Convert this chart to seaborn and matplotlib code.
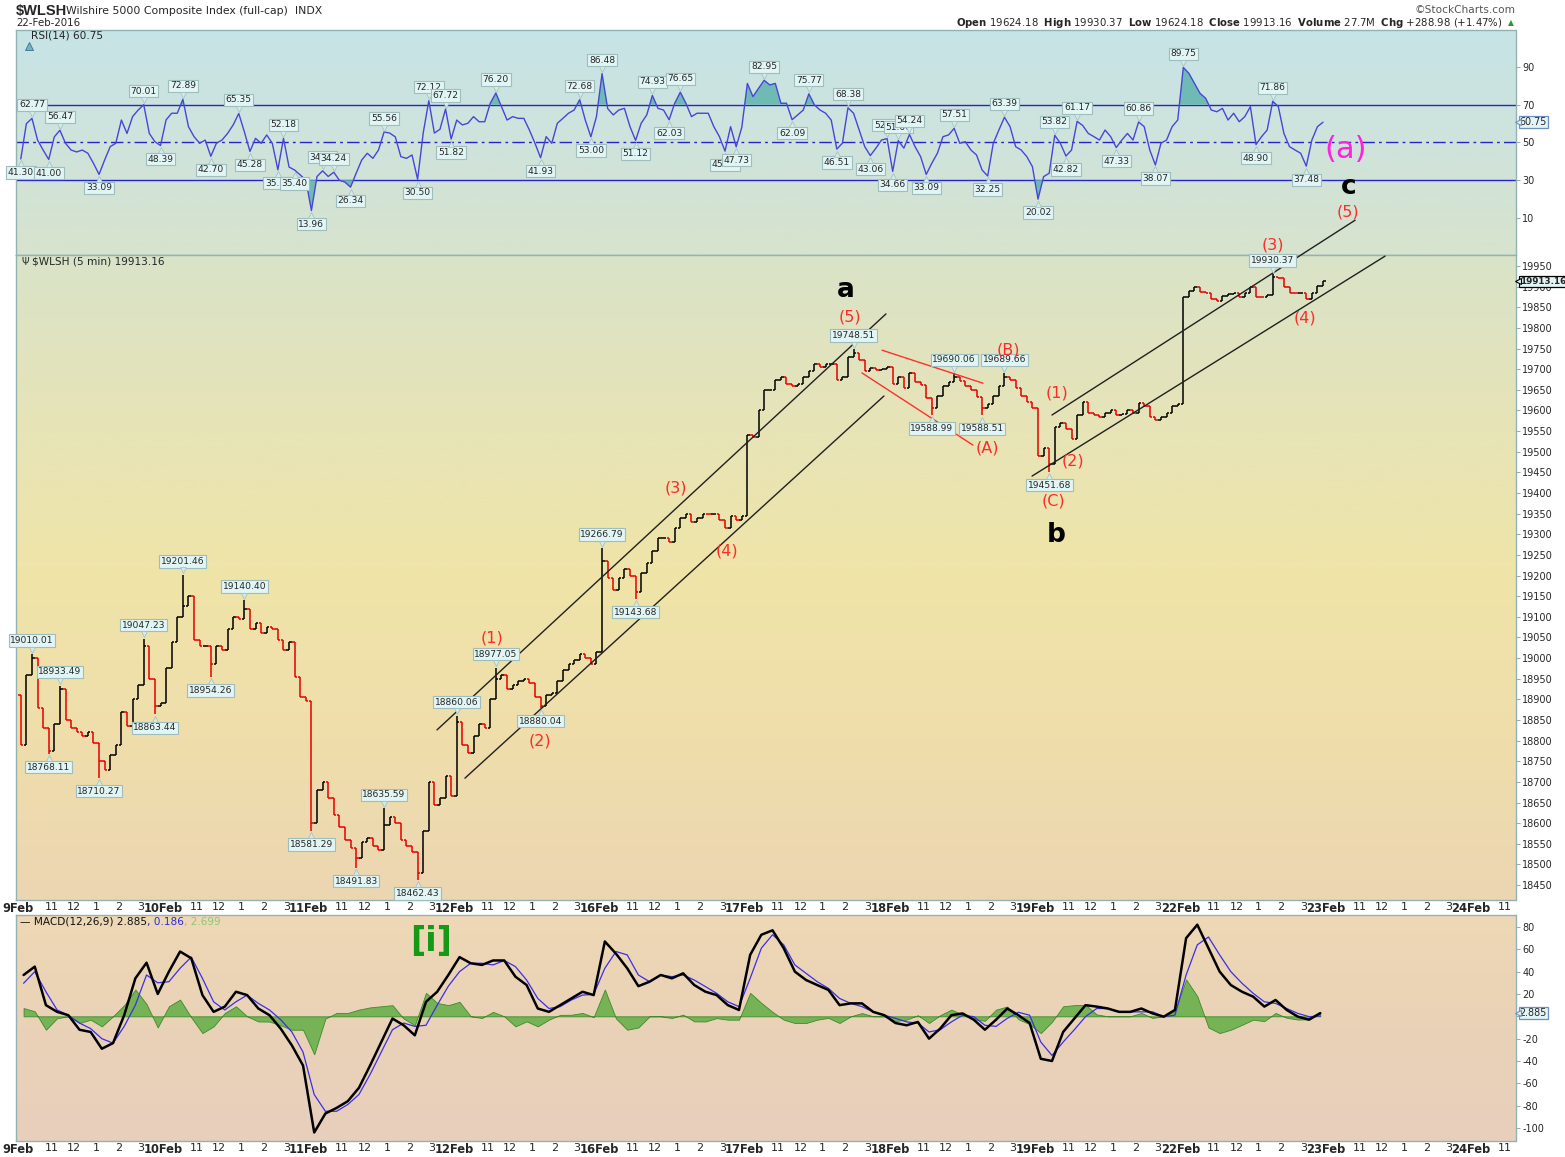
"""Wilshire 5000 (5 min) chart with RSI and MACD panels, StockCharts style."""

import numpy as np
import matplotlib
matplotlib.use("Agg")
import matplotlib.pyplot as plt
import matplotlib.transforms as mtransforms
from matplotlib.colors import LinearSegmentedColormap
import seaborn as sns

W, H = 1565, 1157

# axis calendar: one session = 78 five-minute bars, hour ticks inside it
day_labels = ["9Feb", "10Feb", "11Feb", "12Feb", "16Feb", "17Feb",
              "18Feb", "19Feb", "22Feb", "23Feb", "24Feb"]
hour_labels = ["11", "12", "1", "2", "3"]
hour_offsets = [18, 30, 42, 54, 66]
BARS_PER_DAY = 78
SAMPLE_STEP = 3
MACD_STEP = 6

# ---- price closes (15 min samples, 26 per session) ----
first_open = 18910.0
close_feb09 = [18790, 18960, 19000, 18880, 18830, 18775, 18840, 18925, 18850, 18830,
               18820, 18810, 18820, 18795, 18750, 18730, 18765, 18790, 18870, 18835,
               18900, 18935, 19030, 18950, 18885, 18890]
close_feb10 = [18975, 19040, 19100, 19125, 19150, 19045, 19030, 19030, 18985, 19030,
               19020, 19070, 19100, 19095, 19120, 19070, 19085, 19060, 19075, 19070,
               19045, 19020, 19040, 18955, 18905, 18895]
close_feb11 = [18600, 18680, 18700, 18660, 18620, 18590, 18560, 18540, 18515, 18555,
               18565, 18545, 18535, 18595, 18615, 18600, 18560, 18545, 18530, 18480,
               18580, 18700, 18645, 18660, 18715, 18665]
close_feb12 = [18845, 18790, 18770, 18810, 18840, 18830, 18900, 18950, 18960, 18925,
               18935, 18945, 18950, 18940, 18905, 18885, 18910, 18915, 18945, 18970,
               18985, 18995, 19010, 19000, 18985, 19015]
close_feb16 = [19235, 19195, 19165, 19195, 19215, 19200, 19160, 19205, 19230, 19260,
               19290, 19292, 19282, 19315, 19340, 19350, 19330, 19340, 19350, 19348,
               19350, 19335, 19315, 19345, 19335, 19345]
close_feb17 = [19540, 19535, 19600, 19650, 19650, 19675, 19680, 19665, 19660, 19665,
               19680, 19695, 19712, 19705, 19712, 19712, 19675, 19680, 19730, 19740,
               19722, 19695, 19703, 19698, 19700, 19705]
close_feb18 = [19665, 19680, 19655, 19690, 19670, 19662, 19630, 19605, 19635, 19660,
               19670, 19680, 19672, 19660, 19650, 19632, 19605, 19615, 19635, 19660,
               19680, 19674, 19655, 19635, 19620, 19605]
close_feb19 = [19490, 19510, 19470, 19560, 19570, 19555, 19530, 19590, 19620, 19595,
               19588, 19585, 19595, 19600, 19590, 19592, 19600, 19595, 19618, 19610,
               19585, 19578, 19585, 19595, 19612, 19615]
close_feb22 = [19875, 19890, 19900, 19888, 19885, 19870, 19865, 19878, 19882, 19885,
               19876, 19885, 19898, 19875, 19874, 19880, 19924, 19922, 19898, 19885,
               19884, 19885, 19870, 19885, 19902, 19913.16]

# labelled highs / lows (sample index, value)
price_peak_slots = [2, 7, 22, 29, 40, 65, 78, 85, 104, 149, 167, 176, 224]
price_peak_values = [19010.01, 18933.49, 19047.23, 19201.46, 19140.40, 18635.59, 18860.06,
                     18977.05, 19266.79, 19748.51, 19690.06, 19689.66, 19930.37]
price_trough_slots = [5, 14, 24, 34, 52, 60, 71, 93, 110, 163, 172, 184]
price_trough_values = [18768.11, 18710.27, 18863.44, 18954.26, 18581.29, 18491.83,
                       18462.43, 18880.04, 19143.68, 19588.99, 19588.51, 19451.68]

# ---- RSI(14) (15 min samples) ----
rsi_feb09 = [41.30, 60, 62.77, 51.3, 46, 41.00, 53, 56.47, 49.6, 46, 45, 46, 44.3, 39,
             33.09, 40.7, 47.8, 49.6, 61.9, 54.8, 63.7, 67.2, 70.01, 54.8, 50.4, 48.39]
rsi_feb10 = [62, 65.5, 65.5, 72.89, 58.4, 53.1, 49.6, 51.3, 42.70, 49.6, 51.3, 54.8,
             59.3, 65.35, 55.7, 45.28, 52.2, 49.6, 54, 49.6, 35.55, 52.18, 37, 35.40,
             32.8, 30.1]
rsi_feb11 = [13.96, 32, 34.99, 32, 34.24, 30, 29, 26.34, 33.7, 40.7, 44.3, 41.6, 46,
             55.56, 55, 53, 42.5, 41.6, 43.4, 30.50, 55, 72.12, 55, 57, 67.72, 51.82]
rsi_feb12 = [61.9, 59.3, 60.2, 63.7, 61, 61, 70.8, 76.20, 69, 61.9, 63.7, 62.8, 62.8,
             56.6, 49.6, 41.93, 53.1, 49.6, 60.2, 62.8, 65.5, 67.2, 72.68, 61.9, 53.00,
             63.7]
rsi_feb16 = [86.48, 68, 64.6, 67.2, 68.1, 58.4, 51.12, 60.2, 64.6, 74.93, 68.1, 67.2,
             62.03, 70.8, 76.65, 70.8, 63.7, 65.5, 65.5, 65.5, 58.4, 53.1, 45.41, 58.4,
             47.73, 58]
rsi_feb17 = [81.3, 74.3, 78.7, 82.95, 80.5, 81.3, 70.8, 70.8, 62.09, 64.6, 67.2, 75.77,
             69.9, 67.2, 65.5, 61.9, 46.51, 49.6, 68.38, 65.5, 56.6, 47.8, 43.06, 47,
             51.3, 52.07]
rsi_feb18 = [34.66, 51.00, 47, 54.24, 47.8, 42.5, 33.09, 39, 44.3, 53.1, 54, 57.51, 49.6,
             50.4, 46, 43.4, 35.4, 32.25, 49.6, 56.6, 63.39, 58.4, 47.8, 46, 42.5, 37.2]
rsi_feb19 = [20.02, 31.9, 33.7, 53.82, 49.6, 42.82, 46, 61.17, 59, 54.8, 53.1, 51.3, 56.6,
             53.1, 47.33, 51.3, 54.8, 51.3, 60.86, 58.4, 46, 38.07, 49.6, 51.3, 58.4, 61.9]
rsi_feb22 = [89.75, 86.6, 81.3, 76, 73.4, 67.2, 66.3, 68.1, 61.9, 65.5, 61, 63.7, 69,
             48.90, 53.1, 56.6, 71.86, 69, 54.8, 47.8, 46, 44.3, 37.48, 51.3, 58.4, 60.75]

rsi_peak_slots = [2, 7, 22, 29, 39, 47, 54, 56, 65, 73, 76, 85, 100, 104, 113, 118, 133,
                  141, 148, 155, 157, 159, 167, 176, 185, 189, 200, 208, 224]
rsi_trough_slots = [0, 5, 14, 25, 34, 41, 46, 49, 52, 59, 71, 77, 93, 102, 110, 116, 126,
                    128, 138, 146, 152, 156, 162, 173, 182, 187, 196, 203, 221, 230]

# ---- MACD(12,26,9) (30 min samples, 13 per session) ----
macd_feb09 = [37, 44.5, 10, 4, 1, -12, -14, -29, -24, 1, 34, 48, 20]
macd_feb10 = [40, 58, 52, 19, 4, 8.7, 22, 19, 7, 1, -11, -26, -44]
macd_feb11 = [-104, -87, -82, -76, -64, -44, -23, -2, -8, -17, 13, 22, 37]
macd_feb12 = [53, 47.5, 46, 50, 50, 35.5, 28, 7, 4, 10, 16, 22, 19]
macd_feb16 = [67, 56, 43, 27, 31, 37, 34, 38.5, 28, 22, 19, 10, 5.7]
macd_feb17 = [55, 73, 77, 61, 40, 32.5, 28, 23.6, 10, 11.6, 11.6, 4, 1]
macd_feb18 = [-6, -8, -5, -20, -11, 1, 2.6, -3, -12, -3, 7, 1, -6]
macd_feb19 = [-38, -40, -14, -2, 10, 8.7, 7, 4, 4, 7, 2.6, -0.3, 5.7]
macd_feb22 = [70, 82, 61, 40, 28, 22, 17.6, 8.7, 14.6, 5.7, -0.3, -3, 2.885]

signal_feb09 = [29.6, 40, 22, 5.7, 1, -6, -11, -20, -24, -9, 10, 37, 30]
signal_feb10 = [31, 43, 53, 34, 13, 5.7, 13, 19, 11.6, 5.7, -3, -14, -32]
signal_feb11 = [-70, -85, -85, -79, -70, -52, -32, -12, -6, -9, -8, 10, 27]
signal_feb12 = [40, 47.5, 47.5, 46, 50, 44.5, 32.5, 16, 7, 8.7, 14.6, 19, 19.7]
signal_feb16 = [43, 58, 55, 37, 31, 37, 35.5, 37, 32.5, 26.6, 20.6, 13, 8.7]
signal_feb17 = [34, 61, 73, 64, 46, 38.5, 31, 25, 16, 11.6, 8.7, 4, 1]
signal_feb18 = [-1.8, -5, -6, -14, -12, -5, 1, -0.3, -8, -9, -1.8, 3.6, 1]
signal_feb19 = [-23, -35, -23, -12, -0.3, 7, 7, 4, 4, 4, 4, -0.3, 1]
signal_feb22 = [37, 64, 71, 55, 40, 29.6, 20.6, 13, 11.6, 7, 2.6, -0.3, 0.186]

# Elliott wave trendlines, (bar, price) end points
channel_a_upper = [(224.9, 18826), (465.9, 19834)]
channel_a_lower = [(239.9, 18709), (464.8, 19635)]
triangle_upper = [(463.8, 19746), (518.0, 19666)]
triangle_lower = [(453.0, 19691), (512.6, 19516)]
channel_c_upper = [(555.0, 19589), (717.7, 20061)]
channel_c_lower = [(544.3, 19441), (733.8, 19974)]

# ---------------------------------------------------------------------------
closes = np.array(close_feb09 + close_feb10 + close_feb11 + close_feb12 + close_feb16
                  + close_feb17 + close_feb18 + close_feb19 + close_feb22, dtype=float)
rsi = np.array(rsi_feb09 + rsi_feb10 + rsi_feb11 + rsi_feb12 + rsi_feb16 + rsi_feb17
               + rsi_feb18 + rsi_feb19 + rsi_feb22, dtype=float)
macd = np.array(macd_feb09 + macd_feb10 + macd_feb11 + macd_feb12 + macd_feb16
                + macd_feb17 + macd_feb18 + macd_feb19 + macd_feb22, dtype=float)
signal = np.array(signal_feb09 + signal_feb10 + signal_feb11 + signal_feb12 + signal_feb16
                  + signal_feb17 + signal_feb18 + signal_feb19 + signal_feb22, dtype=float)
hist = macd - signal

xs = SAMPLE_STEP * np.arange(len(closes)) + SAMPLE_STEP / 2
xm = MACD_STEP * np.arange(len(macd)) + MACD_STEP / 2
XLIM = (-1.07, 803.8)

sns.set_theme(style="white")
plt.rcParams["font.family"] = ["DejaVu Sans"]

fig = plt.figure(figsize=(W / 100, H / 100), dpi=100)
fig.patch.set_facecolor("white")


def panel(top, bottom, left=16, right=1515.5):
    return fig.add_axes([left / W, 1 - bottom / H, (right - left) / W, (bottom - top) / H])


def gradient(ax, stops):
    cmap = LinearSegmentedColormap.from_list("bg", stops)
    grad = np.linspace(0, 1, 256).reshape(-1, 1)
    ax.imshow(grad, cmap=cmap, aspect="auto", extent=(0, 1, 0, 1),
              transform=ax.transAxes, origin="upper", zorder=0)


def fig_text(x, y, s, **kw):
    return fig.text(x / W, 1 - y / H, s, **kw)


def value_tag(ax, x, y, text, above, fs=6.6):
    off = 6.5 if above else -6.5
    ax.annotate(text, (x, y), xytext=(0, off), textcoords="offset points",
                ha="center", va="bottom" if above else "top", fontsize=fs,
                bbox=dict(boxstyle="square,pad=0.18", fc="#e2f5f5", ec="#9fbdbd", lw=0.8),
                zorder=7, annotation_clip=False)
    tr = mtransforms.offset_copy(ax.transData, fig=fig, y=3.2 if above else -3.2,
                                 units="points")
    ax.plot([x], [y], marker="v" if above else "^", ms=5, color="#d2eaea",
            mec="#9fbdbd", mew=0.5, transform=tr, zorder=7, clip_on=False)


def right_tag(ax, y, text, bold=False, ec="#6f8fbf", fs=6.9):
    ax.annotate(text, (1.0, y), xycoords=ax.get_yaxis_transform(), xytext=(3.0, 0),
                textcoords="offset points", ha="left", va="center", fontsize=fs,
                fontweight="bold" if bold else "normal",
                bbox=dict(boxstyle="square,pad=0.1", fc="#e2f5f5", ec=ec, lw=0.9),
                zorder=8, annotation_clip=False)
    ax.plot([1.0], [y], marker="<", ms=4.5, color="#e2f5f5", mec=ec, mew=0.8,
            transform=mtransforms.offset_copy(ax.get_yaxis_transform(), fig=fig, x=1.8,
                                              units="points"),
            zorder=9, clip_on=False)


def style_axis(ax, yticks, ylim):
    ax.set_ylim(*ylim)
    ax.yaxis.tick_right()
    ax.set_yticks(yticks)
    ax.set_yticklabels([f"{t:g}" for t in yticks])
    ax.tick_params(axis="y", which="both", right=True, left=False, length=3, width=0.6,
                   color="#7f9f9f", labelsize=7, pad=2)
    ax.tick_params(axis="x", bottom=False, top=False, length=0)
    for sp in ax.spines.values():
        sp.set_color("#93b3b3")
        sp.set_linewidth(1.0)
    ax.set_xlabel("")
    ax.set_ylabel("")
    ax.set_xlim(*XLIM)


def date_ticks(ax):
    pos, lab = [], []
    for d, name in enumerate(day_labels):
        for off, h in zip([0] + hour_offsets, [name] + hour_labels):
            p = d * BARS_PER_DAY + off
            if p <= XLIM[1]:
                pos.append(p)
                lab.append(h)
    ax.set_xticks(pos)
    ax.set_xticklabels(lab)
    ax.tick_params(axis="x", labelbottom=True, labelsize=8, pad=1.5)
    for t in ax.get_xticklabels():
        if t.get_text() in day_labels:
            t.set_fontweight("bold")
            t.set_fontsize(8.3)
    ax.set_xlim(*XLIM)


ax_rsi = panel(30, 255)
ax_px = panel(255, 900)
ax_macd = panel(915, 1141)

gradient(ax_rsi, ["#c6e4e6", "#cfe3dc", "#d7e3cd"])
gradient(ax_px, ["#d9e3c8", "#e6e4b8", "#f0e4a8", "#efdeab", "#ecd6b2"])
gradient(ax_macd, ["#eed8b4", "#ead2b8", "#e8cfbc"])

# ---- RSI panel ----
for lvl in (70, 30):
    ax_rsi.axhline(lvl, color="#2626c6", lw=1.0, zorder=2)
ax_rsi.axhline(50, color="#2626c6", lw=1.0, ls=(0, (9, 3, 2, 3)), zorder=2)
ax_rsi.fill_between(xs, rsi, 70, where=rsi >= 70, interpolate=True, color="#70bab6",
                    zorder=3, lw=0)
ax_rsi.fill_between(xs, rsi, 30, where=rsi <= 30, interpolate=True, color="#70bab6",
                    zorder=3, lw=0)
sns.lineplot(x=xs, y=rsi, ax=ax_rsi, color="#4646d8", lw=1.0, zorder=4)
for g in rsi_peak_slots:
    value_tag(ax_rsi, xs[g], rsi[g], f"{rsi[g]:.2f}", True)
for g in rsi_trough_slots:
    value_tag(ax_rsi, xs[g], rsi[g], f"{rsi[g]:.2f}", False)
style_axis(ax_rsi, [10, 30, 50, 70, 90], (-9.6, 109.6))
ax_rsi.set_xticks([])
ax_rsi.set_xlim(*XLIM)
right_tag(ax_rsi, rsi[-1], f"{rsi[-1]:.2f}")
ax_rsi.plot([0.0085], [0.93], marker="^", ms=6, color="#6fb8b4", mec="#3c6c9c", mew=0.6,
            transform=ax_rsi.transAxes, zorder=6)
fig_text(31, 36, "RSI(14) 60.75", fontsize=7.6, va="center", ha="left")

# ---- price panel ----
opens = np.r_[first_open, closes[:-1]]
highs = np.maximum(opens, closes)
lows = np.minimum(opens, closes)
for g, v in zip(price_peak_slots, price_peak_values):
    highs[g] = max(highs[g], v)
for g, v in zip(price_trough_slots, price_trough_values):
    lows[g] = min(lows[g], v)
bar_col = np.where(closes >= opens, "#000000", "#e60000")
ax_px.vlines(xs, lows, highs, colors=bar_col, lw=1.1, zorder=4)
ax_px.hlines(opens, xs - 1.4, xs, colors=bar_col, lw=1.1, zorder=4)
ax_px.hlines(closes, xs, xs + 1.4, colors=bar_col, lw=1.1, zorder=4)

for line, col in [(channel_a_upper, "#202020"), (channel_a_lower, "#202020"),
                  (channel_c_upper, "#202020"), (channel_c_lower, "#202020"),
                  (triangle_upper, "#ff3030"), (triangle_lower, "#ff3030")]:
    (x0, y0), (x1, y1) = line
    ax_px.plot([x0, x1], [y0, y1], color=col, lw=1.0, zorder=5, clip_on=False)

for g, v in zip(price_peak_slots, price_peak_values):
    value_tag(ax_px, xs[g], v, f"{v:.2f}", True)
for g, v in zip(price_trough_slots, price_trough_values):
    value_tag(ax_px, xs[g], v, f"{v:.2f}", False)

style_axis(ax_px, list(range(18450, 19951, 50)), (18413.8, 19976.7))
date_ticks(ax_px)
right_tag(ax_px, closes[-1], f"{closes[-1]:.2f}", bold=True, ec="#000000", fs=6.3)
fig_text(32, 262, r"\$WLSH (5 min) 19913.16", fontsize=7.6, va="center", ha="left")
fig_text(21, 262, "\u03a8", fontsize=7, va="center", ha="left", color="#333333")

# ---- MACD panel ----
ax_macd.fill_between(xm, hist, 0, color="#76b256", lw=0.6, edgecolor="#3f8a2a", zorder=2)
sns.lineplot(x=xm, y=signal, ax=ax_macd, color="#3b2ee8", lw=0.9, zorder=3)
sns.lineplot(x=xm, y=macd, ax=ax_macd, color="#000000", lw=1.8, zorder=4)
style_axis(ax_macd, list(range(-100, 81, 20)), (-111.6, 90.7))
date_ticks(ax_macd)
right_tag(ax_macd, macd[-1], f"{macd[-1]:.3f}")

macd_lbl = fig_text(20, 922, "\u2014 MACD(12,26,9) 2.885", fontsize=7.6,
                    va="center", ha="left", color="#111111")
t2 = ax_macd.annotate(", 0.186", xy=(1, 0.5), xycoords=macd_lbl, va="center", ha="left",
                      fontsize=7.6, color="#2a2ae0")
ax_macd.annotate(", 2.699", xy=(1, 0.5), xycoords=t2, va="center", ha="left",
                 fontsize=7.6, color="#8cc878")

# ---- header ----
fig_text(16, 11, r"\$WLSH", fontsize=10.5, fontweight="bold", va="center", ha="left",
         family=["Liberation Sans", "DejaVu Sans"])
fig_text(66, 11, "Wilshire 5000 Composite Index (full-cap)  INDX", fontsize=7.8,
         va="center", ha="left")
fig_text(16, 23, "22-Feb-2016", fontsize=7.4, va="center", ha="left")
fig_text(1515, 10, "\u00a9StockCharts.com", fontsize=7.6, va="center", ha="right",
         color="#555555")
fig_text(1503, 23, r"$\mathbf{Open}$ 19624.18  $\mathbf{High}$ 19930.37  "
         r"$\mathbf{Low}$ 19624.18  $\mathbf{Close}$ 19913.16  "
         r"$\mathbf{Volume}$ 27.7M  $\mathbf{Chg}$ +288.98 (+1.47%)",
         fontsize=7.3, va="center", ha="right")
fig_text(1511, 23, "\u25b2", fontsize=5.5, va="center", ha="center", color="#2a9a2a")

# ---- Elliott wave labels ----
red = "#ff2a2a"
for s, x, y in [("(1)", 492, 638), ("(2)", 540, 741), ("(3)", 676, 488), ("(4)", 727, 551),
                ("(5)", 850, 317), ("(A)", 987, 448), ("(B)", 1008, 350), ("(C)", 1053, 501),
                ("(1)", 1057, 393), ("(2)", 1073, 461), ("(3)", 1273, 245),
                ("(4)", 1305, 318), ("(5)", 1348, 212)]:
    fig_text(x, y, s, fontsize=11.5, color=red, ha="center", va="center")
for s, x, y in [("a", 846, 290), ("b", 1056, 535), ("c", 1349, 187)]:
    fig_text(x, y, s, fontsize=19, fontweight="bold", color="#000000", ha="center",
             va="center")
fig_text(1346, 150, "(a)", fontsize=22, color="#ff22dd", ha="center", va="center")
fig_text(431, 942, "[i]", fontsize=24, fontweight="bold", color="#169a16", ha="center",
         va="center")

fig.savefig("out.png", dpi=100)
plt.close(fig)
